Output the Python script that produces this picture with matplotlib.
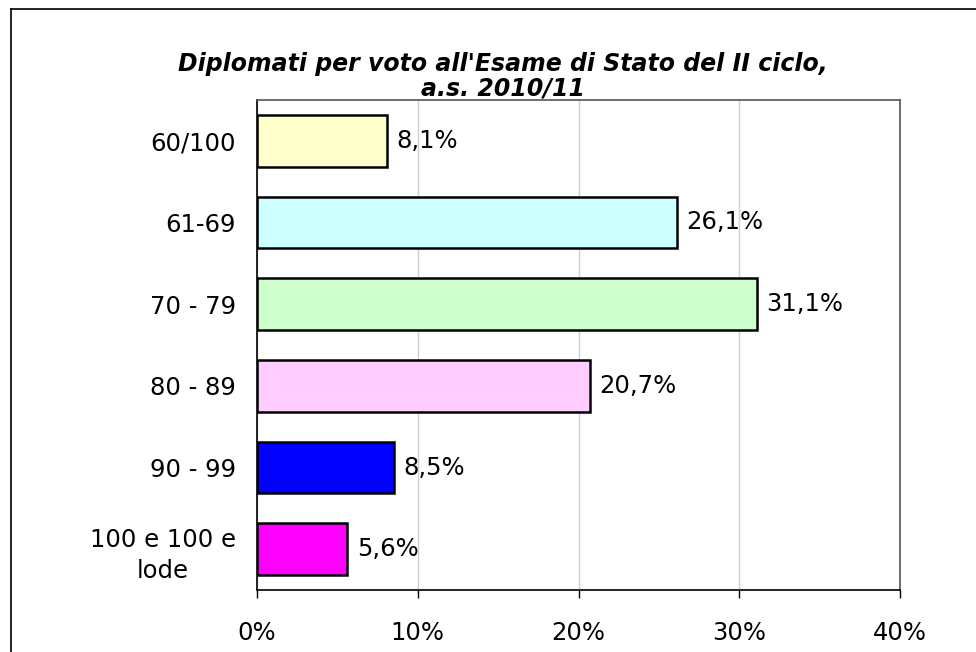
import matplotlib
matplotlib.use("Agg")
import matplotlib.pyplot as plt
from matplotlib.lines import Line2D

# data
categories = ["60/100", "61-69", "70 - 79", "80 - 89", "90 - 99", "100 e 100 e\nlode"]
values = [8.1, 26.1, 31.1, 20.7, 8.5, 5.6]
colors = ["#FFFFCC", "#CCFFFF", "#CCFFCC", "#FFCCFF", "#0000FF", "#FF00FF"]
xticks = [0, 10, 20, 30, 40]

plt.rcParams["font.family"] = ["DejaVu Sans"]
FS = 17.5

fig = plt.figure(figsize=(9.76, 6.52), dpi=100)
ax = fig.add_axes([257 / 976, 1 - 590 / 652, (900 - 257) / 976, (590 - 100) / 652])

ypos = list(range(len(categories)))
ax.barh(ypos, values, height=0.63, color=colors, edgecolor="black", linewidth=1.8, zorder=3)
for y, v in zip(ypos, values):
    ax.text(v + 0.6, y, f"{v:.1f}%".replace(".", ","), va="center", ha="left",
            fontsize=FS, zorder=4)

ax.set_xlim(0, 40)
ax.set_ylim(len(categories) - 0.5, -0.5)
ax.set_xticks(xticks)
ax.set_xticklabels([f"{t}%" for t in xticks], fontsize=FS)
ax.set_yticks(ypos)
ax.set_yticklabels(categories, fontsize=FS, multialignment="center", linespacing=1.4)
ax.tick_params(axis="y", length=0, pad=15)
ax.tick_params(axis="x", length=6, width=1, pad=16)
ax.grid(axis="x", color="#d0d0d0", linewidth=1, zorder=0)

for side in ("left", "bottom"):
    ax.spines[side].set_color("black")
    ax.spines[side].set_linewidth(1.2)
for side in ("top", "right"):
    ax.spines[side].set_color("#555555")
    ax.spines[side].set_linewidth(1.2)

fig.text(0.515, 1 - 76 / 652, "Diplomati per voto all'Esame di Stato del II ciclo,\na.s. 2010/11",
         ha="center", va="center", fontsize=17, fontweight="bold", fontstyle="italic",
         linespacing=1.05)

# outer chart frame (cut off at right and bottom in the reference)
fig.add_artist(Line2D([11 / 976, 11 / 976], [0, 1 - 9 / 652], color="black", linewidth=1.2))
fig.add_artist(Line2D([11 / 976, 1], [1 - 9 / 652, 1 - 9 / 652], color="black", linewidth=1.2))

fig.savefig("out.png", dpi=100)
